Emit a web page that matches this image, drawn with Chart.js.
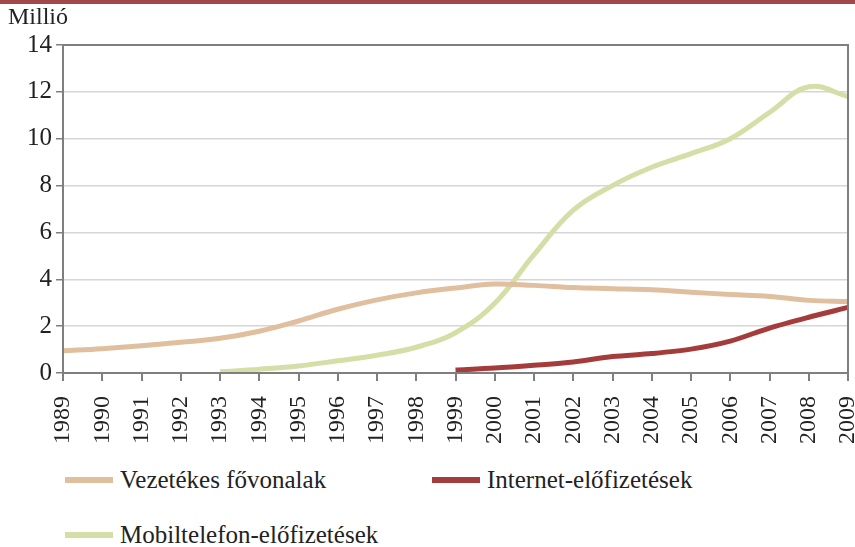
<!DOCTYPE html>
<html>
<head>
<meta charset="utf-8">
<script src="https://cdn.jsdelivr.net/npm/chart.js@4/dist/chart.umd.min.js"></script>
<style>
  body { margin: 0; background: #fff; }
  #wrap { position: relative; width: 855px; height: 547px; overflow: hidden; }
  #topbar { position: absolute; left: 0; top: 0; width: 855px; height: 4px; background: #a0484a; }
  #unit { position: absolute; left: 8px; top: 3px; font: 24px "Liberation Serif", "DejaVu Serif", serif; color: #222; }
  #chartBox { position: absolute; left: 0; top: 0; width: 855px; height: 455px; }
  .leg { position: absolute; font: 25px "Liberation Serif", "DejaVu Serif", serif; color: #222; white-space: nowrap; }
  .leg span { display: inline-block; width: 48px; height: 6px; vertical-align: middle; margin-right: 7px; position: relative; top: -2px; }
</style>
</head>
<body>
<div id="wrap">
  <div id="chartBox"><canvas id="telCanvas"></canvas></div>
  <div id="topbar"></div>
  <div id="unit">Millió</div>
  <div class="leg" style="left:65px; top:466px;"><span style="background:#e0bf9f"></span>Vezetékes fővonalak</div>
  <div class="leg" style="left:432px; top:466px;"><span style="background:#a53c3c"></span>Internet-előfizetések</div>
  <div class="leg" style="left:65px; top:521px;"><span style="background:#d3dfa6"></span>Mobiltelefon-előfizetések</div>
</div>
<script>
const years = ["1989","1990","1991","1992","1993","1994","1995","1996","1997","1998","1999",
  "2000","2001","2002","2003","2004","2005","2006","2007","2008","2009"];
const fixedLines = [0.95, 1.04, 1.16, 1.31, 1.48, 1.78, 2.22, 2.72, 3.12, 3.42, 3.63,
  3.8, 3.74, 3.65, 3.6, 3.55, 3.45, 3.35, 3.27, 3.1, 3.05];
const internetSubs = [null, null, null, null, null, null, null, null, null, null, 0.13,
  0.21, 0.33, 0.47, 0.7, 0.83, 1.02, 1.36, 1.92, 2.38, 2.8];
const mobileSubs = [null, null, null, null, 0.05, 0.16, 0.3, 0.52, 0.76, 1.1, 1.72,
  2.98, 5.05, 6.95, 8.0, 8.78, 9.36, 10.0, 11.12, 12.22, 11.8];
const yTicks = [0, 2, 4, 6, 8, 10, 12, 14];

const SERIF = "'Liberation Serif', 'DejaVu Serif', serif";

// grey box round the plot area
const frame = {
  id: "frame",
  afterDraw(chart) {
    const a = chart.chartArea, ctx = chart.ctx;
    ctx.save();
    ctx.strokeStyle = "#7f7f7f";
    ctx.lineWidth = 2;
    ctx.strokeRect(a.left, a.top, a.right - a.left, a.bottom - a.top);
    ctx.restore();
  }
};

const cv = document.getElementById("telCanvas");
cv.width = 855; cv.height = 455;
cv.style.width = "855px"; cv.style.height = "455px";

new Chart(cv.getContext("2d"), {
  type: "line",
  data: {
    labels: years,
    datasets: [
      { label: "Vezetékes fővonalak", data: fixedLines, borderColor: "#e0bf9f", borderWidth: 5, tension: 0.4 },
      { label: "Mobiltelefon-előfizetések", data: mobileSubs, borderColor: "#d3dfa6", borderWidth: 5, tension: 0.4 },
      { label: "Internet-előfizetések", data: internetSubs, borderColor: "#a53c3c", borderWidth: 5, tension: 0.3 },
    ],
  },
  options: {
    responsive: false,
    animation: false,
    elements: { point: { radius: 0 } },
    layout: { padding: { top: 45, right: 7 } },
    plugins: { legend: { display: false }, tooltip: { enabled: false } },
    scales: {
      x: {
        grid: { drawOnChartArea: false, color: "#7f7f7f", lineWidth: 2 },
        ticks: { font: { family: SERIF, size: 24 }, color: "#222", minRotation: 90, maxRotation: 90, padding: 15 },
        afterFit(s) { s.height = 82; s.paddingLeft = 0; s.paddingRight = 0; },
      },
      y: {
        min: 0,
        max: 14,
        afterBuildTicks(s) { s.ticks = yTicks.map(v => ({ value: v })); },
        grid: { color: "#d6d6d6", lineWidth: 1.5, tickLength: 7, tickColor: "#7f7f7f" },
        ticks: { font: { family: SERIF, size: 25 }, color: "#222", padding: 4 },
        afterFit(s) { s.width = 63; },
      },
    },
  },
  plugins: [frame],
});
</script>
</body>
</html>
